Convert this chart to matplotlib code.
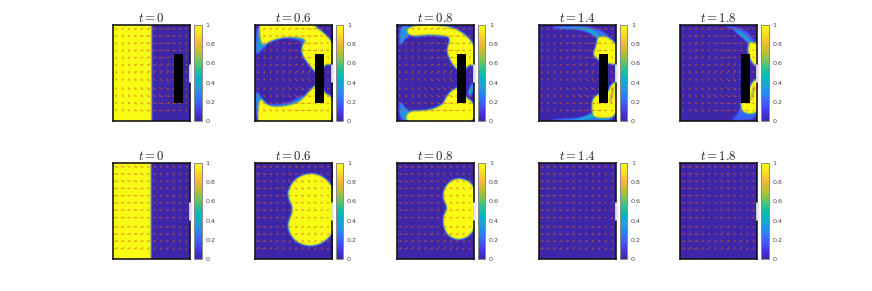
import numpy as np
import matplotlib
matplotlib.use("Agg")
import matplotlib.pyplot as plt
from matplotlib.colors import LinearSegmentedColormap
from matplotlib.path import Path
from matplotlib.patches import Rectangle

plt.rcParams['mathtext.fontset'] = 'cm'

times = ["0", "0.6", "0.8", "1.4", "1.8"]
cbar_ticks = [0, 0.2, 0.4, 0.6, 0.8, 1]
cbar_labels = ["0", "0.2", "0.4", "0.6", "0.8", "1"]

parula_stops = ["#3e26a8", "#4436e0", "#3f5df7", "#2a82f0", "#1f9fdc", "#06b5c2",
                "#2ac28f", "#7cc552", "#c5bd30", "#f5b93a", "#fbe022", "#f9fb15"]

barrier = (0.785, 0.19, 0.12, 0.51)
outlet = (0.41, 0.59)

# phase regions per panel: (level, outline in axes fractions), later ones overwrite earlier ones
row1_t0 = [(1, [(-0.2, -0.2), (0.5, -0.2), (0.5, 1.2), (-0.2, 1.2)])]
row1_t06 = [
    (0.34, [(0.03, 0.99), (0.15, 1.0), (0.15, 0.78), (0.09, 0.75), (0.04, 0.70), (0.01, 0.70), (0.015, 0.85)]),
    (0.34, [(0.03, 0.01), (0.15, 0.0), (0.15, 0.18), (0.09, 0.23), (0.04, 0.30), (0.01, 0.30), (0.015, 0.15)]),
    (0.25, [(0.15, 0.84), (0.22, 0.83), (0.39, 0.87), (0.55, 0.85), (0.62, 0.80), (0.67, 0.87), (0.39, 0.92), (0.2, 0.88)]),
    (0.25, [(0.15, 0.17), (0.35, 0.175), (0.50, 0.21), (0.58, 0.27), (0.65, 0.24), (0.50, 0.13), (0.2, 0.11)]),
    (1, [(0.06, 1.2), (0.74, 1.2), (0.74, 1.0), (0.87, 0.93), (1.02, 0.80), (1.04, 0.58), (0.90, 0.60), (0.84, 0.50),
         (0.78, 0.50), (0.69, 0.59), (0.60, 0.69), (0.60, 0.79), (0.66, 0.845), (0.565, 0.87), (0.39, 0.875),
         (0.22, 0.845), (0.06, 0.76)]),
    (1, [(0.04, -0.2), (0.93, -0.2), (1.02, 0.16), (0.97, 0.27), (0.90, 0.28), (0.84, 0.40), (0.78, 0.38),
         (0.67, 0.29), (0.60, 0.22), (0.52, 0.18), (0.35, 0.15), (0.17, 0.15), (0.04, 0.27)]),
]
row1_t08 = [
    (0.33, [(0.04, 0.99), (0.16, 1.0), (0.16, 0.87), (0.1, 0.86), (0.06, 0.79), (0.03, 0.80)]),
    (0.33, [(0.04, 0.01), (0.16, 0.0), (0.16, 0.12), (0.1, 0.13), (0.06, 0.20), (0.03, 0.19)]),
    (0.25, [(0.15, 0.87), (0.43, 0.89), (0.60, 0.87), (0.67, 0.88), (0.43, 0.93)]),
    (0.25, [(0.15, 0.11), (0.35, 0.11), (0.50, 0.14), (0.60, 0.19), (0.50, 0.09), (0.15, 0.07)]),
    (1, [(0.13, 1.0), (0.64, 1.0), (0.87, 0.92), (1.02, 0.78), (1.05, 0.57), (0.93, 0.59), (0.86, 0.50),
         (0.80, 0.52), (0.71, 0.60), (0.64, 0.73), (0.69, 0.85), (0.66, 0.885), (0.43, 0.905), (0.14, 0.875)]),
    (1, [(0.11, -0.04), (0.98, -0.04), (1.03, 0.12), (0.96, 0.22), (0.90, 0.24), (0.84, 0.36), (0.80, 0.36),
         (0.70, 0.31), (0.64, 0.25), (0.60, 0.18), (0.50, 0.13), (0.35, 0.105), (0.13, 0.105)]),
    (0.5, [(0.92, 0.29), (0.98, 0.40), (0.99, 0.33), (0.95, 0.26)]),
]
row1_t14 = [
    (0.42, [(0.17, 0.98), (0.60, 0.985), (0.72, 0.95), (0.85, 0.85), (0.78, 0.85), (0.60, 0.955), (0.17, 0.965)]),
    (0.3, [(0.6, 0.995), (0.85, 0.93), (0.99, 0.80), (0.98, 0.76), (0.85, 0.87), (0.72, 0.95)]),
    (0.42, [(0.17, 0.015), (0.55, 0.025), (0.72, 0.10), (0.74, 0.03), (0.60, 0.005), (0.17, 0.0)]),
    (1, [(0.76, 0.88), (0.90, 0.88), (1.04, 0.77), (1.05, 0.58), (0.91, 0.60), (0.84, 0.60), (0.70, 0.68), (0.72, 0.74), (0.75, 0.81)]),
    (1, [(0.72, 0.02), (0.95, 0.02), (1.03, 0.13), (1.05, 0.43), (0.93, 0.38), (0.90, 0.30), (0.84, 0.30), (0.70, 0.25),
         (0.68, 0.13)]),
    (0.45, [(0.93, 0.17), (0.97, 0.33), (0.96, 0.37), (0.92, 0.22)]),
    (0.28, [(0.62, 0.0), (0.90, 0.0), (0.96, 0.03), (0.72, 0.03)]),
]
row1_t18 = [
    (0.22, [(0.55, 1.0), (0.85, 0.96), (1.0, 0.80), (1.0, 0.70), (0.82, 0.90), (0.6, 0.985)]),
    (0.45, [(0.68, 0.965), (0.82, 0.91), (0.94, 0.80), (1.0, 0.74), (1.0, 0.68), (0.91, 0.80), (0.77, 0.90)]),
    (0.2, [(0.64, 0.0), (0.97, 0.01), (1.0, 0.10), (0.97, 0.09), (0.83, 0.09), (0.80, 0.17), (0.74, 0.06)]),
    (1, [(0.89, 0.82), (0.98, 0.82), (1.1, 0.75), (1.1, 0.57), (0.96, 0.57), (0.88, 0.70)]),
    (1, [(0.78, 0.20), (0.81, 0.085), (0.97, 0.07), (1.1, 0.18), (1.1, 0.43), (0.97, 0.44), (0.90, 0.35), (0.84, 0.20)]),
    (0.45, [(0.93, 0.20), (0.97, 0.34), (0.96, 0.38), (0.92, 0.24)]),
]
row2_t0 = [(1, [(-0.2, -0.2), (0.495, -0.2), (0.495, 1.2), (-0.2, 1.2)])]
row2_t06 = [(1, [(0.73, 0.90), (0.90, 0.85), (1.02, 0.72), (1.08, 0.5), (1.02, 0.30), (0.90, 0.18), (0.73, 0.13),
                 (0.56, 0.16), (0.46, 0.24), (0.41, 0.36), (0.50, 0.52), (0.41, 0.66), (0.46, 0.78), (0.56, 0.86)])]
row2_t08 = [(1, [(0.80, 0.845), (0.68, 0.81), (0.60, 0.71), (0.60, 0.625), (0.66, 0.53), (0.60, 0.45), (0.60, 0.35),
                 (0.66, 0.24), (0.80, 0.195), (0.95, 0.24), (1.02, 0.35), (1.08, 0.55), (1.02, 0.71), (0.95, 0.81)])]
row2_t14 = []
row2_t18 = []

row1_regions = [row1_t0, row1_t06, row1_t08, row1_t14, row1_t18]
row2_regions = [row2_t0, row2_t06, row2_t08, row2_t14, row2_t18]

# velocity directions (degrees), rows listed top to bottom
top_angles = [
    [60, 60, 55, 50, 40, 30, 10, 0, -5, -5, -10, -20],
    [75, 70, 60, 50, 35, 20, 5, 0, -5, -5, -10, -20],
    [85, 75, 60, 45, 30, 15, 5, 0, 0, -5, -10, -20],
    [85, 75, 60, 45, 30, 20, 10, 5, 0, 0, -10, -20],
    [90, 80, 60, 40, 30, 25, 20, 15, 10, 0, -40, -60],
    [90, 70, 50, 35, 30, 30, 35, 40, 45, 0, -60, -70],
    [90, 90, 75, 45, 40, 40, 45, 50, 60, 0, 0, 0],
    [-90, -90, -80, -70, -60, -55, -50, -50, -60, 0, 60, 70],
    [-80, -70, -60, -55, -50, -45, -40, -40, -30, 0, 40, 60],
    [-70, -60, -55, -50, -45, -40, -30, -20, -10, 0, 20, 30],
    [-60, -55, -50, -45, -35, -25, -10, 0, 5, 5, 10, 20],
    [-55, -50, -45, -35, -25, -15, -5, 0, 5, 5, 5, 10],
    [0, 0, 0, 0, 0, 0, 0, 0, 0, 0, 0, 0],
]
bottom_angles = [
    [-20, -20, -25, -30, -35, -40, -50, -55, -60, -65, -70, -80],
    [-15, -20, -25, -30, -35, -40, -45, -50, -55, -60, -70, -80],
    [-10, -15, -20, -25, -30, -35, -40, -45, -50, -55, -65, -80],
    [-5, -5, -10, -15, -20, -25, -30, -35, -40, -50, -60, -75],
    [-5, -5, -5, -5, -10, -10, -15, -20, -20, -25, -35, -50],
    [0, 0, 0, 0, 0, 0, -5, -5, -5, -5, -5, -10],
    [0, 0, 0, 0, 0, 0, 0, 0, 0, 0, 0, 0],
    [0, 0, 0, 0, 5, 5, 5, 5, 5, 5, 10, 10],
    [5, 5, 5, 5, 10, 10, 15, 15, 20, 25, 35, 50],
    [10, 10, 15, 20, 25, 25, 30, 35, 40, 45, 55, 70],
    [15, 15, 20, 25, 30, 35, 40, 45, 50, 55, 65, 80],
    [20, 20, 25, 30, 35, 40, 45, 50, 55, 60, 70, 80],
    [25, 25, 30, 35, 40, 45, 50, 55, 60, 65, 75, 85],
]
top_speed = [0.55, 0.6, 0.65, 0.7, 0.75, 0.85, 0.9, 1.0, 1.0, 0.9, 0.7, 0.5]
bottom_speed = [0.9, 0.85, 0.8, 0.8, 0.75, 0.7, 0.7, 0.7, 0.7, 0.7, 0.6, 0.5]
arrow_x = [0.04, 0.123, 0.206, 0.289, 0.372, 0.455, 0.538, 0.621, 0.704, 0.787, 0.87, 0.953]
arrow_y = [0.96, 0.885, 0.81, 0.735, 0.66, 0.585, 0.51, 0.43, 0.335, 0.26, 0.185, 0.11, 0.0]

W, H = 872, 291
lefts = [113.3, 254.8, 396.8, 538.8, 680.3]
tops = [25, 163]
ax_w, ax_h = 77, 96
cmap = LinearSegmentedColormap.from_list("parula_like", parula_stops)


def smooth(field, sigma):
    r = int(np.ceil(3 * sigma))
    k = np.exp(-0.5 * (np.arange(-r, r + 1) / sigma) ** 2)
    k /= k.sum()
    pad = np.pad(field, r, mode="edge")
    pad = np.apply_along_axis(lambda a: np.convolve(a, k, mode="same"), 0, pad)
    pad = np.apply_along_axis(lambda a: np.convolve(a, k, mode="same"), 1, pad)
    return pad[r:-r, r:-r]


def rounded(poly, passes=3):
    # corner cutting, so outlines read as smooth curves; plain four-sided regions stay straight
    p = np.array(poly, dtype=float)
    if len(p) == 4:
        return p
    for _ in range(passes):
        q = np.roll(p, -1, axis=0)
        p = np.column_stack([0.75 * p + 0.25 * q, 0.25 * p + 0.75 * q]).reshape(-1, 2)
    return p


def phase_field(regions):
    ss = 3
    nx, ny = ax_w * ss, ax_h * ss
    xs = (np.arange(nx) + 0.5) / nx
    ys = (np.arange(ny) + 0.5) / ny
    X, Y = np.meshgrid(xs, ys)
    pts = np.column_stack([X.ravel(), Y.ravel()])
    field = np.zeros(X.shape)
    for level, poly in regions:
        outline = rounded(poly)
        mask = Path(np.vstack([outline, outline[:1]])).contains_points(pts).reshape(X.shape).astype(float)
        m = smooth(mask, (0.7 if level == 1 else 0.9) * ss)
        field = field * (1 - m) + level * m
    return field


fig = plt.figure(figsize=(W / 100, H / 100), dpi=100)

for r, (regions, angles, speed) in enumerate([
    (row1_regions, top_angles, top_speed),
    (row2_regions, bottom_angles, bottom_speed),
]):
    top = tops[r]
    ang = np.radians(np.array(angles, dtype=float))
    spd = np.array(speed)[None, :]
    U, V = spd * np.cos(ang), spd * np.sin(ang)
    QX, QY = np.meshgrid(arrow_x, arrow_y)
    for i, left in enumerate(lefts):
        ax = fig.add_axes([left / W, 1 - (top + ax_h) / H, ax_w / W, ax_h / H])
        im = ax.imshow(phase_field(regions[i]), origin="lower", extent=(0, 1, 0, 1), cmap=cmap,
                       vmin=0, vmax=1, aspect="auto", interpolation="bilinear")
        ax.quiver(QX, QY, U, V, color="#d9601e", alpha=0.72, angles="uv", pivot="mid", units="dots",
                  scale=0.2, width=0.7, headwidth=3, headlength=3, headaxislength=2.7, zorder=2, clip_on=True)
        if r == 0:
            ax.add_patch(Rectangle(barrier[:2], barrier[2], barrier[3], facecolor="black", edgecolor="none", zorder=3))
        ax.set_xlim(0, 1)
        ax.set_ylim(0, 1)
        ax.set_xticks([])
        ax.set_yticks([])
        for s in ax.spines.values():
            s.set_linewidth(1.15)
            s.set_color("#111111")
        ax.plot([1, 1], outlet, color="#e4e4ea", lw=2.0, clip_on=False, zorder=5, solid_capstyle="butt")
        ax.set_title(f"$t={times[i]}$", fontsize=9.2, pad=2.0, color="#222222")

        cax = fig.add_axes([(left + 81) / W, 1 - (top + ax_h) / H, 7.6 / W, ax_h / H])
        cb = fig.colorbar(im, cax=cax, ticks=cbar_ticks)
        cb.ax.set_yticklabels(cbar_labels)
        cb.ax.tick_params(length=0, labelsize=4.6, labelcolor="#444444", pad=2.5)
        cb.outline.set_linewidth(0.7)
        cb.outline.set_edgecolor("#8a8a8a")

fig.savefig("out.png", dpi=100)
